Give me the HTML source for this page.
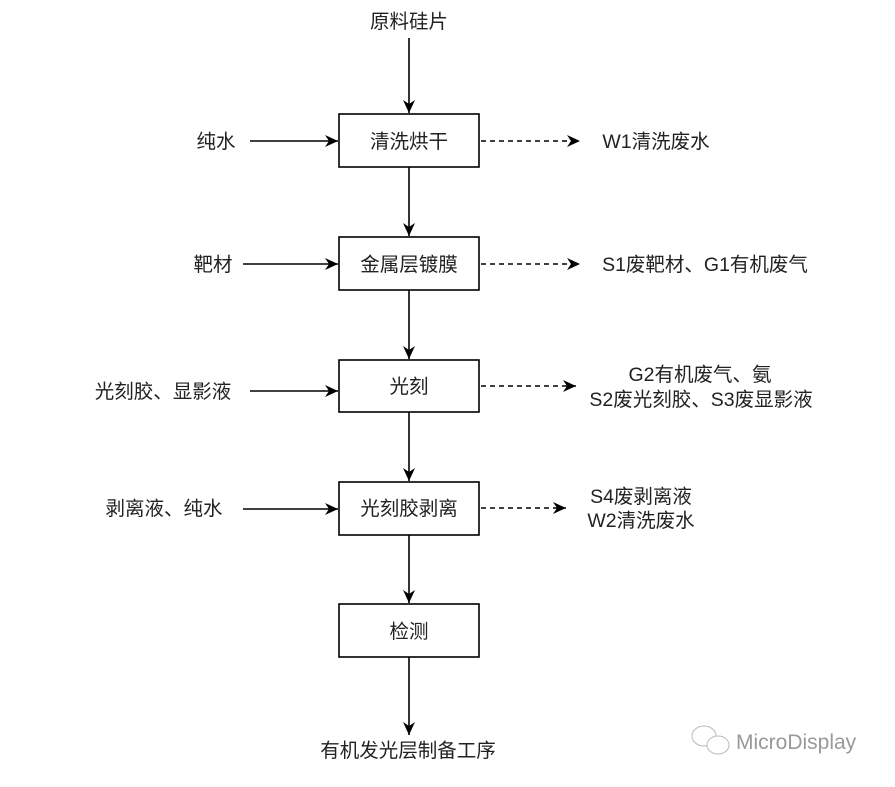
<!DOCTYPE html>
<html><head><meta charset="utf-8"><style>
body{margin:0;background:#fff;}
svg text{font-family:"Liberation Sans","Noto Sans CJK SC",sans-serif;font-size:19.5px;fill:#222;}
</style></head><body>
<svg width="895" height="782" xmlns="http://www.w3.org/2000/svg">
<defs><marker id="a" markerWidth="14" markerHeight="14" refX="13" refY="6" orient="auto" markerUnits="userSpaceOnUse"><path d="M0,0 L13,6 L0,12 L4,6 Z" fill="#000"/></marker></defs>
<g stroke="#000" stroke-width="1.6" fill="none">
<rect x="339" y="114" width="140" height="53"/>
<rect x="339" y="237" width="140" height="53"/>
<rect x="339" y="360" width="140" height="52"/>
<rect x="339" y="482" width="140" height="53"/>
<rect x="339" y="604" width="140" height="53"/>
<line x1="409" y1="38" x2="409" y2="113" marker-end="url(#a)"/>
<line x1="409" y1="167" x2="409" y2="236" marker-end="url(#a)"/>
<line x1="409" y1="290" x2="409" y2="359" marker-end="url(#a)"/>
<line x1="409" y1="412" x2="409" y2="481" marker-end="url(#a)"/>
<line x1="409" y1="535" x2="409" y2="603" marker-end="url(#a)"/>
<line x1="409" y1="657" x2="409" y2="735" marker-end="url(#a)"/>
<line x1="250" y1="141" x2="338" y2="141" marker-end="url(#a)"/>
<line x1="243" y1="264" x2="338" y2="264" marker-end="url(#a)"/>
<line x1="250" y1="391" x2="338" y2="391" marker-end="url(#a)"/>
<line x1="243" y1="509" x2="338" y2="509" marker-end="url(#a)"/>
<g stroke-dasharray="5,4">
<line x1="481" y1="141" x2="580" y2="141" marker-end="url(#a)"/>
<line x1="481" y1="264" x2="580" y2="264" marker-end="url(#a)"/>
<line x1="481" y1="386" x2="576" y2="386" marker-end="url(#a)"/>
<line x1="481" y1="508" x2="566" y2="508" marker-end="url(#a)"/>
</g></g>
<g text-anchor="middle">
<text x="409" y="28">原料硅片</text>
<text x="409" y="148">清洗烘干</text>
<text x="409" y="271">金属层镀膜</text>
<text x="409" y="393">光刻</text>
<text x="409" y="515">光刻胶剥离</text>
<text x="409" y="638">检测</text>
<text x="408" y="757">有机发光层制备工序</text>
<text x="216" y="148">纯水</text>
<text x="213" y="271">靶材</text>
<text x="163" y="398">光刻胶、显影液</text>
<text x="164" y="515">剥离液、纯水</text>
<text x="656" y="148">W1清洗废水</text>
<text x="705" y="271">S1废靶材、G1有机废气</text>
<text x="700" y="381">G2有机废气、氨</text>
<text x="701" y="406">S2废光刻胶、S3废显影液</text>
<text x="641" y="503">S4废剥离液</text>
<text x="641" y="527">W2清洗废水</text>
</g>
<g stroke="#bbb" fill="#fff" stroke-width="1"><ellipse cx="704" cy="736" rx="12" ry="10"/><ellipse cx="718" cy="745" rx="11" ry="9"/></g>
<text x="736" y="749" style="font-size:21px;fill:#999">MicroDisplay</text>
</svg>
</body></html>
